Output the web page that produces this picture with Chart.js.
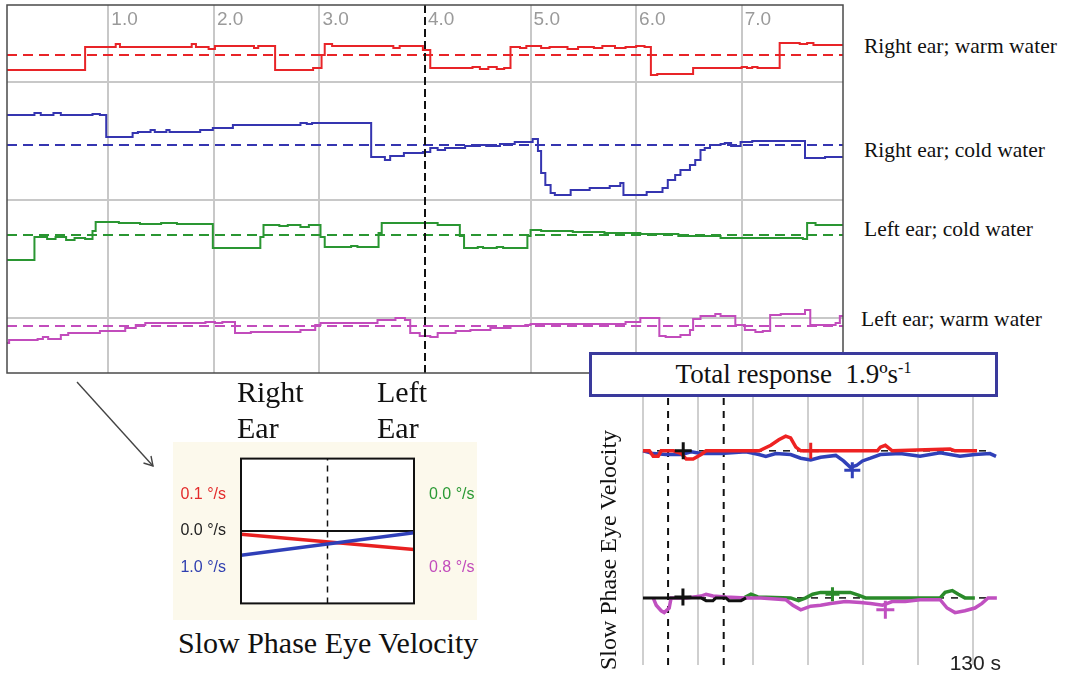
<!DOCTYPE html>
<html>
<head>
<meta charset="utf-8">
<script src="https://cdn.jsdelivr.net/npm/chart.js@4.4.1/dist/chart.umd.min.js"></script>
<style>
  body { margin: 0; width: 1068px; height: 677px; position: relative; background: #fff; overflow: hidden; }
  canvas, .txt, svg { position: absolute; }
  .serif { font-family: 'Liberation Serif', 'Times New Roman', serif; color: #111; white-space: nowrap; }
  .chan { font-size: 21.5px; line-height: 21.5px; }
  .ear { font-size: 30px; line-height: 36px; }
  #calBox { left: 173px; top: 442px; background: #fcf9ec; }
  #total { position: absolute; left: 589px; top: 352px; width: 409px; height: 45px; box-sizing: border-box;
           border: 3px solid #3a3a9c; background: #fff; text-align: center; font-size: 27px; line-height: 39px; }
  #total sup { font-size: 16px; vertical-align: 10px; line-height: 0; }
  #ytitle { left: 608px; top: 550px; font-size: 24px; transform: translate(-50%, -50%) rotate(-90deg); }
</style>
</head>
<body>
<canvas id="main" width="850" height="380" style="left:0;top:0"></canvas>
<canvas id="calBox" width="304" height="178"></canvas>
<canvas id="resp" width="448" height="297" style="left:620px;top:380px"></canvas>

<div class="txt serif chan" style="left:864px;top:36px">Right ear; warm water</div>
<div class="txt serif chan" style="left:864px;top:140px">Right ear; cold water</div>
<div class="txt serif chan" style="left:864px;top:219px">Left ear; cold water</div>
<div class="txt serif chan" style="left:861px;top:309px">Left ear; warm water</div>

<div class="txt serif ear" style="left:237px;top:374px">Right<br>Ear</div>
<div class="txt serif ear" style="left:377px;top:374px">Left<br>Ear</div>
<div class="txt serif" style="left:178px;top:628px;font-size:30px;line-height:30px">Slow Phase Eye Velocity</div>

<div id="total" class="serif">Total response&nbsp; 1.9ºs<sup>-1</sup></div>
<div id="ytitle" class="txt serif">Slow Phase Eye Velocity</div>

<svg width="1068" height="677" style="left:0;top:0;pointer-events:none">
  <g stroke="#444" stroke-width="1.4" fill="none">
    <line x1="77" y1="382" x2="153" y2="466"/>
    <polyline points="151,456 153,466 143.5,463"/>
  </g>
</svg>

<script>
// ---- main recording: four irrigations, slow phase velocity traces ----
const mainXTicks = [1, 2, 3, 4, 5, 6, 7];
const mainYGrid = [55, 173, 291];
const markerX = 4;
const baselines = [318, 228, 138, 47];

const rightWarm = [[0.04,303],[0.78,326],[1.07,329],[1.11,326],[1.79,329],[1.83,326],[1.95,324],[2.01,327],[2.38,325],[2.42,327],[2.58,303],[2.94,305],[3.02,318],[3.05,329],[3.12,327],[3.70,325],[3.76,327],[3.98,323],[4.05,305],[4.45,306],[4.52,304],[4.60,306],[4.68,304],[4.75,305],[4.81,326],[4.90,325],[4.96,327],[5.10,325],[5.18,326],[5.35,324],[5.45,326],[5.60,325],[5.68,327],[5.80,325],[5.90,326],[6.00,327],[6.08,326],[6.14,298],[6.20,299],[6.54,305],[7.00,306],[7.05,305],[7.10,306],[7.15,305],[7.36,330],[7.55,329],[7.62,330],[7.68,328],[7.96,328]];
const rightCold = [[0.04,258],[0.30,260],[0.36,258],[0.48,260],[0.55,258],[0.85,259],[0.92,258],[0.98,236],[1.23,240],[1.28,241],[1.40,243],[1.44,241],[1.55,243],[1.58,241],[1.87,243],[1.99,245],[2.18,248],[2.82,250],[2.88,249],[2.93,250],[3.49,216],[3.62,213],[3.67,217],[3.80,220],[3.98,221],[4.05,225],[4.12,223],[4.19,225],[4.38,227],[4.52,228],[4.58,227],[4.71,229],[4.85,231],[5.02,234],[5.07,222],[5.10,200],[5.14,188],[5.19,180],[5.23,178],[5.38,183],[5.56,185],[5.75,187],[5.85,190],[5.88,178],[6.10,181],[6.25,185],[6.30,193],[6.37,198],[6.42,203],[6.51,208],[6.56,213],[6.61,223],[6.65,225],[6.70,228],[6.80,229],[6.84,230],[6.90,227],[6.99,231],[7.10,232],[7.60,215],[7.79,216],[7.96,216]];
const leftCold = [[0.04,113],[0.30,136],[0.42,134],[0.50,136],[0.60,133],[0.68,135],[0.78,134],[0.85,142],[0.88,151],[1.10,150],[1.30,149],[1.50,150],[1.65,149],[1.99,125],[2.44,136],[2.47,148],[2.62,147],[2.70,148],[2.82,146],[2.90,148],[3.01,136],[3.05,126],[3.30,127],[3.36,126],[3.56,140],[3.59,150],[4.12,148],[4.33,137],[4.37,125],[4.50,126],[4.55,125],[4.68,126],[4.74,125],[4.97,137],[5.00,143],[5.10,142],[5.40,141],[5.70,140],[6.04,139],[6.40,137],[6.80,135],[7.58,134],[7.62,150],[7.70,148],[7.96,148]];
const leftWarm = [[0.04,30],[0.06,33],[0.33,34],[0.38,36],[0.43,34],[0.55,38],[0.62,40],[0.92,42],[1.16,45],[1.26,48],[1.35,50],[1.92,51],[2.01,50],[2.08,51],[2.20,40],[2.35,41],[2.82,43],[2.96,48],[3.01,50],[3.55,53],[3.72,55],[3.81,53],[3.86,40],[3.95,37],[4.05,36],[4.12,40],[4.29,42],[4.43,43],[4.62,45],[4.81,47],[4.95,48],[5.00,49],[5.90,51],[6.04,55],[6.22,37],[6.28,36],[6.42,38],[6.51,43],[6.54,54],[6.61,57],[6.75,59],[6.80,57],[6.94,48],[7.03,43],[7.13,41],[7.20,42],[7.27,58],[7.37,59],[7.60,63],[7.65,48],[7.80,48],[7.89,50],[7.93,57],[7.96,57]];

// ---- calibration box: slope from right ear to left ear ----
const sideTicks = [1, 0, -1];
const leftTickLabels = ['0.1 °/s', '0.0 °/s', '1.0 °/s'];
const rightTickLabels = ['0.0 °/s', '', '0.8 °/s'];
const leftTickColors = ['#e32b2b', '#222222', '#2f3fb0'];
const rightTickColors = ['#2b9a35', '#222222', '#c24cbc'];
const redSlope = [-0.09, -0.51];
const blueSlope = [-0.67, -0.05];

// ---- response over time, seconds ----
const respGrid = [0, 20, 40, 60, 80, 100, 120];
const respEnd = 130;
const respMarkers = [9.1, 29.3];
const respBaselines = [233, 73];
const upRed = [[0,233],[2.3,233],[3.7,227],[5.5,227],[6.6,233],[11,233],[13.9,230],[15.7,224],[18.2,224],[21.1,229],[22.9,233],[42.2,233],[46.4,239],[49.3,245],[51.8,249],[53.6,247],[55.5,237],[57.3,233],[85.1,233],[86.2,237],[88,239],[90.5,233],[111.5,235],[113.3,233],[121.3,233]];
const upBlue = [[0,233],[3.7,230],[8.4,229],[13.9,229],[17.5,232],[21.1,230],[28.3,230],[37.4,232],[42.1,229],[44.6,227],[48.2,230],[53.6,229],[57.3,225],[60.9,223],[64.5,226],[70,228],[72.8,222],[75.3,215],[77.5,217],[79.7,222],[82.6,225],[86.2,229],[93.4,230],[100.6,227],[107.9,231],[115.1,227],[120.5,229],[126,230],[128.2,227]];
const lowBlack = [[0,73],[21.1,73],[22.9,70],[25.4,70],[26.5,73],[30.1,73],[31.2,70],[35.6,70],[37.4,73]];
const lowMagenta = [[3.7,73],[4.8,65],[6.6,59],[7.7,57],[9.5,62],[10.2,73],[15.7,73],[21.1,75],[22.9,77],[25.4,75],[30.1,74],[37.4,73],[42.8,73],[51.8,71],[54.4,65],[57.3,60],[60.9,64],[64.5,65],[68.1,67],[73.5,69],[78.9,68],[82.6,67],[87,65],[90.5,69],[95.2,69],[100.6,71],[107.9,71],[110.4,62],[113.3,57],[116.9,59],[120.5,62],[123.1,67],[125.3,73],[128.5,73]];
const lowGreen = [[36.7,73],[39.2,77],[41.7,74],[53.6,73],[56.5,70],[59.1,73],[61.6,77],[64.5,79],[75.3,79],[78.2,76],[80.8,73],[107.9,73],[109.7,79],[112.3,81],[114.5,77],[116.9,73],[120.5,73]];
const plusBlack = [[14.6,233],[14.5,74]];
const plusRed = [[60.9,233]];
const plusBlue = [[76,212]];
const plusGreen = [[68.8,77]];
const plusMagenta = [[88,60]];

const pts = a => a.map(([x, y]) => ({ x, y }));
const clear = 'rgba(0,0,0,0)';
const sans = "'Liberation Sans', Arial, sans-serif";

// outline (and optional fill) of the plotting area
const frame = (color, width, fill) => ({
  id: 'frame',
  beforeDraw(chart) {
    if (!fill) return;
    const { ctx, chartArea: a } = chart;
    ctx.save();
    ctx.fillStyle = fill;
    ctx.fillRect(a.left, a.top, a.right - a.left, a.bottom - a.top);
    ctx.restore();
  },
  afterDatasetsDraw(chart) {
    const { ctx, chartArea: a } = chart;
    ctx.save();
    ctx.strokeStyle = color;
    ctx.lineWidth = width;
    ctx.strokeRect(a.left, a.top, a.right - a.left, a.bottom - a.top);
    ctx.restore();
  }
});

const base = {
  responsive: false,
  animation: false,
  events: [],
  plugins: { legend: { display: false }, tooltip: { enabled: false } },
  elements: { point: { radius: 0 }, line: { tension: 0, fill: false } }
};

const trace = (data, color, width, extra) => Object.assign({ data: pts(data), borderColor: color, borderWidth: width }, extra || {});
const hline = (y, x0, x1, color, width, dash) => ({ data: [{ x: x0, y }, { x: x1, y }], borderColor: color, borderWidth: width, borderDash: dash || [] });
const vline = (x, y0, y1, color, width, dash) => ({ data: [{ x, y: y0 }, { x, y: y1 }], borderColor: color, borderWidth: width, borderDash: dash || [] });
const plus = (data, color, r, w) => ({ data: pts(data), showLine: false, pointStyle: 'cross', pointRadius: r, pointBorderColor: color, pointBorderWidth: w });

const mainColors = ['#e82428', '#3535b0', '#2a9632', '#c24cbc'];

// tick labels sit inside the plot (mirror), axis itself takes no room
new Chart(document.getElementById('main'), {
  type: 'line',
  data: {
    datasets: [
      vline(markerX, 0, 368, '#111', 2, [8, 4]),
      trace(rightWarm, mainColors[0], 2, { stepped: true }),
      trace(rightCold, mainColors[1], 2, { stepped: true }),
      trace(leftCold, mainColors[2], 2, { stepped: true }),
      trace(leftWarm, mainColors[3], 2, { stepped: true }),
      ...baselines.map((b, i) => hline(b, 0.04, 7.96, mainColors[i], 2, [10, 6]))
    ]
  },
  options: Object.assign({}, base, {
    layout: { padding: { left: 7, top: 5, right: 7, bottom: 7 } },
    scales: {
      x: {
        type: 'linear', position: 'top', min: 0.04, max: 7.96,
        afterBuildTicks: s => { s.ticks = mainXTicks.map(v => ({ value: v })); },
        afterFit: s => { s.height = 0; },
        grid: { color: c => (c.tick && c.tick.value === markerX ? clear : '#c8c8c8'), lineWidth: 2, drawTicks: false },
        border: { display: false },
        ticks: {
          mirror: true, callback: v => v.toFixed(1), align: 'start', labelOffset: 3, padding: 3.6,
          maxRotation: 0, autoSkip: false, color: '#9a9a9a', font: { family: sans, size: 19 }
        }
      },
      y: {
        type: 'linear', min: 0, max: 368,
        afterBuildTicks: s => { s.ticks = mainYGrid.map(v => ({ value: v })); },
        afterFit: s => { s.width = 0; },
        grid: { color: '#c8c8c8', lineWidth: 2, drawTicks: false },
        border: { display: false },
        ticks: { display: false }
      }
    }
  }),
  plugins: [frame('#4a4a4a', 1.5)]
});

new Chart(document.getElementById('calBox'), {
  type: 'line',
  data: {
    datasets: [
      trace([[-1, blueSlope[0]], [1, blueSlope[1]]], '#2f3fb8', 3.5),
      trace([[-1, redSlope[0]], [1, redSlope[1]]], '#e82020', 3.5),
      hline(0, -1, 1, '#111', 2),
      vline(0, -2, 2, '#111', 1.5, [6, 5])
    ]
  },
  options: Object.assign({}, base, {
    layout: { padding: { top: 4, bottom: 0 } },
    scales: {
      x: { type: 'linear', min: -1, max: 1, display: false },
      y: {
        type: 'linear', position: 'left', min: -2, max: 2,
        afterBuildTicks: s => { s.ticks = sideTicks.map(v => ({ value: v })); },
        afterFit: s => { s.width = 68; },
        grid: { display: false }, border: { display: false },
        ticks: { padding: 7, callback: (v, i) => leftTickLabels[i], color: c => leftTickColors[c.index], font: { family: sans, size: 16 } }
      },
      yR: {
        type: 'linear', position: 'right', min: -2, max: 2,
        afterBuildTicks: s => { s.ticks = sideTicks.map(v => ({ value: v })); },
        afterFit: s => { s.width = 63; },
        grid: { display: false }, border: { display: false },
        ticks: { padding: 7, callback: (v, i) => rightTickLabels[i], color: c => rightTickColors[c.index], font: { family: sans, size: 16 } }
      }
    }
  }),
  plugins: [frame('#111', 2, '#fff')]
});

new Chart(document.getElementById('resp'), {
  type: 'line',
  data: {
    datasets: [
      plus(plusBlack, '#111', 8.5, 3),
      plus(plusRed, '#e82020', 8, 3),
      plus(plusBlue, '#3040b8', 8, 3),
      plus(plusGreen, '#2a8a2a', 7, 3),
      plus(plusMagenta, '#c050c0', 9, 3),
      trace(upRed, '#ee2222', 3.5),
      trace(upBlue, '#3040b8', 3.5),
      trace(lowBlack, '#111', 3),
      trace(lowMagenta, '#c050c0', 3.5),
      trace(lowGreen, '#2a8a2a', 3.5),
      ...respBaselines.map(b => hline(b, 0, 125, '#111', 1.5, [7, 7])),
      ...respMarkers.map(m => vline(m, 0, 297, '#111', 2, [7, 6]))
    ]
  },
  options: Object.assign({}, base, {
    layout: { padding: { left: 10.6, right: 67, top: 0, bottom: 0 } },
    scales: {
      x: {
        type: 'linear', position: 'bottom', min: -4, max: respEnd,
        afterBuildTicks: s => { s.ticks = respGrid.concat([respEnd]).map(v => ({ value: v })); },
        afterFit: s => { s.height = 0; },
        grid: { color: c => (c.tick && c.tick.value === respEnd ? clear : '#cfcfcf'), lineWidth: 2, drawTicks: false },
        border: { display: false },
        ticks: {
          mirror: true, callback: v => (v === respEnd ? v + ' s' : ''), align: 'end', labelOffset: 0, padding: -11.4,
          maxRotation: 0, autoSkip: false, color: '#222',
          font: { family: "'Liberation Sans Narrow', 'Liberation Sans', Arial, sans-serif", size: 21 }
        }
      },
      y: { type: 'linear', min: 0, max: 297, display: false }
    }
  })
});
</script>
</body>
</html>
